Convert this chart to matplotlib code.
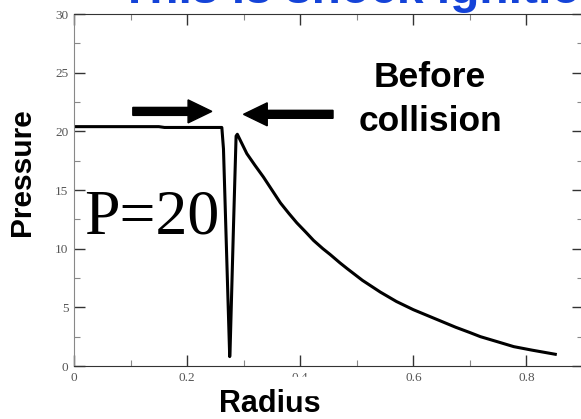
import matplotlib
matplotlib.use("Agg")
from matplotlib import pyplot as plt
from matplotlib.patches import Rectangle
from matplotlib.ticker import MultipleLocator

# pressure profile
radius = [0.0, 0.15, 0.16, 0.2614, 0.2643, 0.2753, 0.276, 0.282, 0.2866, 0.2888,
          0.3056, 0.32, 0.335, 0.35, 0.365, 0.38, 0.394, 0.41, 0.4236, 0.44,
          0.453, 0.47, 0.483, 0.51, 0.5416, 0.57, 0.60, 0.625, 0.65, 0.675,
          0.70, 0.7186, 0.75, 0.7776, 0.81, 0.851]
pressure = [20.4, 20.4, 20.33, 20.33, 18.5, 0.8, 1.4, 11.9, 19.6, 19.75,
            18.1, 17.1, 16.1, 15.0, 13.9, 13.0, 12.2, 11.4, 10.7, 10.0,
            9.5, 8.8, 8.3, 7.3, 6.3, 5.5, 4.8, 4.3, 3.8, 3.3,
            2.85, 2.5, 2.05, 1.65, 1.35, 1.0]

W, H = 581, 419
fig = plt.figure(figsize=(W / 100, H / 100), dpi=100)
ax = fig.add_axes([74 / W, 1 - 366 / H, (583 - 74) / W, (366 - 14) / H])

ax.plot(radius, pressure, color='black', lw=2.2, solid_joinstyle='round')

ax.set_xlim(0, 0.9)
ax.set_ylim(0, 30)
ax.xaxis.set_major_locator(MultipleLocator(0.2))
ax.xaxis.set_minor_locator(MultipleLocator(0.1))
ax.yaxis.set_major_locator(MultipleLocator(5))
ax.yaxis.set_minor_locator(MultipleLocator(2.5))
ax.set_xticks([0, 0.2, 0.4, 0.6, 0.8])
ax.set_xticklabels(['0', '0.2', '0.4', '0.6', '0.8'])

ax.tick_params(which='both', direction='in', top=True, right=True,
               labelsize=9.5, labelcolor='#555555', color='#333333')
ax.tick_params(which='major', length=8, width=1, pad=4)
ax.tick_params(which='minor', length=4, width=0.8, color='#888888')
for lab in ax.get_xticklabels() + ax.get_yticklabels():
    lab.set_family('Liberation Serif')

for s in ['top', 'bottom', 'right']:
    ax.spines[s].set_color('#333333')
ax.spines['left'].set_color('#888888')

# arrows pointing at the collision point
ax.arrow(0.104, 21.7, 0.1397 - 0.042, 0, width=0.68, head_width=1.96,
         head_length=0.042, color='black', length_includes_head=False)
ax.arrow(0.458, 21.45, -(0.1583 - 0.042), 0, width=0.68, head_width=1.96,
         head_length=0.042, color='black', length_includes_head=False)

fig.text(430 / W, 1 - 87 / H, 'Before', ha='center', va='baseline',
         fontsize=25.5, fontweight='bold', family='Liberation Sans')
fig.text(430 / W, 1 - 131 / H, 'collision', ha='center', va='baseline',
         fontsize=25.5, fontweight='bold', family='Liberation Sans')

fig.text(84 / W, 1 - 233 / H, 'P=20', ha='left', va='baseline',
         fontsize=46, family='Liberation Serif')

fig.text(120 / W, 1 - 3 / H, 'This is shock ignition', ha='left', va='baseline',
         fontsize=34.5, fontweight='bold', family='Liberation Sans',
         color='#1443d8')

fig.text(22.5 / W, 1 - 172 / H, 'Pressure', rotation=90, ha='center', va='center',
         fontsize=21.5, fontweight='bold', family='Liberation Sans')
fig.text(270 / W, 1 - 412 / H, 'Radius', ha='center', va='baseline',
         fontsize=22, fontweight='bold', family='Liberation Sans')

# the lower half of the 0.4 label is hidden in the original
fig.add_artist(Rectangle((283 / W, 1 - 395 / H), 36 / W, 18 / H,
                         transform=fig.transFigure, color='white', zorder=10))

fig.savefig('out.png', dpi=100)
